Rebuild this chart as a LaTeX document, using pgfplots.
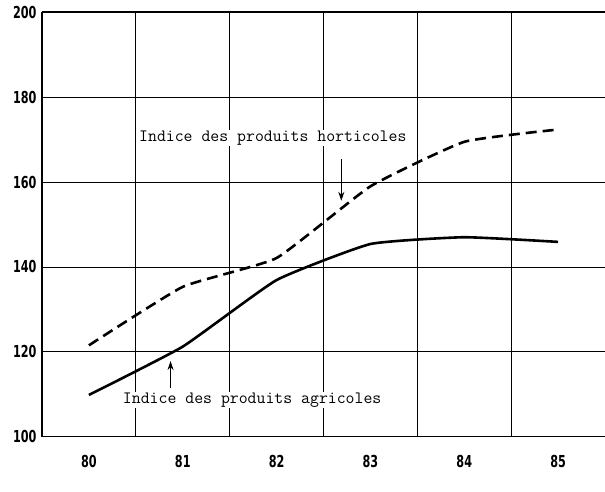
\documentclass[border=0pt]{standalone}
\usepackage{fontspec}
\usepackage{pgfplots}
\pgfplotsset{compat=1.18}
\usetikzlibrary{arrows.meta}
\newfontfamily\tickfont[FakeStretch=0.68]{DejaVu Sans Bold}
\begin{document}
\begin{tikzpicture}[x=1pt,y=1pt]
\begin{axis}[
  at={(42pt,54.5pt)}, anchor=south west,
  scale only axis, width=563pt, height=424pt,
  xmin=-0.5, xmax=5.5, ymin=100, ymax=200,
  xtick={0,1,2,3,4,5}, xticklabels={80,81,82,83,84,85},
  ytick={100,120,140,160,180,200}, yticklabels={100,120,140,160,180,200},
  minor xtick={0.5,1.5,2.5,3.5,4.5},
  xminorgrids, ymajorgrids,
  grid style={black, line width=0.8pt},
  minor grid style={black, line width=0.8pt},
  major tick length=0pt, minor tick length=0pt,
  axis x line*=bottom, axis y line*=left,
  axis line style={-, line width=1.6pt, black},
  ticklabel style={font=\tickfont\fontsize{16.5}{16.5}\selectfont},
  xticklabel style={yshift=-15pt},
  yticklabel style={xshift=-2pt},
  clip=false,
]
\addplot[black, line width=2.6pt, smooth, tension=0.25] coordinates {
  (0,109.8) (1,121.2) (2,136.9) (3,145.4) (4,147.0) (5,145.9)};
\addplot[black, line width=2.6pt, dash pattern=on 11pt off 6pt, smooth, tension=0.25] coordinates {
  (0,121.5) (1,135.3) (2,142.1) (3,159.0) (4,169.5) (5,172.4)};
\draw[line width=2pt] (rel axis cs:0,1) -- (rel axis cs:1,1);
\node[fill=white, inner sep=1pt, font=\ttfamily\fontsize{17.3}{17.3}\selectfont] at (axis cs:1.96,170.4) {Indice des produits horticoles};
\draw[line width=1pt, -{Stealth[length=9pt,width=6pt]}] (axis cs:2.69,165.4) -- (axis cs:2.69,155.6);
\node[fill=white, inner sep=1pt, font=\ttfamily\fontsize{17.3}{17.3}\selectfont] at (axis cs:1.74,108.6) {Indice des produits agricoles};
\draw[line width=1pt, -{Stealth[length=9pt,width=6pt]}] (axis cs:0.87,111.4) -- (axis cs:0.87,117.8);
\end{axis}
\pgfresetboundingbox
\path[use as bounding box] (0,0) rectangle (605pt,491pt);
\end{tikzpicture}
\end{document}
